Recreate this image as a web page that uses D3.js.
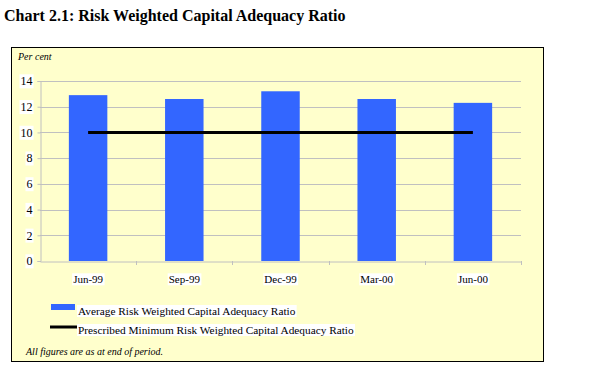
<!DOCTYPE html>
<html><head><meta charset="utf-8">
<script src="https://cdn.jsdelivr.net/npm/d3@7"></script>
<style>body{margin:0;background:#fff}svg{display:block}</style>
</head><body>
<svg id="c" width="602" height="384"></svg>
<script>
const categories = ["Jun-99","Sep-99","Dec-99","Mar-00","Jun-00"];
const averageCAR = [12.9, 12.6, 13.2, 12.6, 12.3];
const minimumCAR = [10, 10, 10, 10, 10];
const yTicks = [0,2,4,6,8,10,12,14];
const seriesNames = ["Average Risk Weighted Capital Adequacy Ratio","Prescribed Minimum Risk Weighted Capital Adequacy Ratio"];

const svg = d3.select("#c");
const font = "'Liberation Serif','Times New Roman',serif";
svg.append("text").attr("x",4).attr("y",21).attr("font-family",font).attr("font-weight","bold")
  .attr("font-size",16).text("Chart 2.1: Risk Weighted Capital Adequacy Ratio");

svg.append("rect").attr("x",11.5).attr("y",47.5).attr("width",532).attr("height",314)
  .attr("fill","#ffffcc").attr("stroke","#000").attr("stroke-width",1);

svg.append("text").attr("x",18).attr("y",60).attr("font-family",font).attr("font-style","italic")
  .attr("font-size",10).text("Per cent");

const x = d3.scaleBand().domain(categories).range([40,521]).paddingInner(0.6).paddingOuter(0.3);
const xb = d3.scaleBand().domain(categories).range([40,521]);
const y = d3.scaleLinear().domain([0,14]).range([261,81]);

function whiteBg(sel){
  sel.each(function(){
    const b = this.getBBox();
    d3.select(this.parentNode).insert("rect", () => this)
      .attr("x",b.x-1).attr("y",b.y).attr("width",b.width+2).attr("height",b.height).attr("fill","#fff");
  });
}

// gridlines
svg.append("g").selectAll("line").data(yTicks.filter(d=>d>0)).join("line")
  .attr("x1",40).attr("x2",521).attr("y1",d=>Math.round(y(d))+0.5).attr("y2",d=>Math.round(y(d))+0.5)
  .attr("stroke","#c0c0c0");

// y axis
const ya = svg.append("g").attr("transform","translate(40.5,0)")
  .call(d3.axisLeft(y).tickValues(yTicks).tickSize(3).tickPadding(5))
  .attr("font-family",font).attr("font-size",12);
ya.select(".domain").attr("stroke","#c0c0c0");
ya.selectAll(".tick line").attr("stroke","#c0c0c0");
ya.selectAll("text").attr("font-family",font).attr("font-size",12).attr("fill","#000");
whiteBg(ya.selectAll("text"));

// x axis
const xa = svg.append("g").attr("transform","translate(0,261.5)")
  .call(d3.axisBottom(xb).tickSize(0).tickPadding(14))
  .attr("font-family",font).attr("font-size",11);
xa.select(".domain").attr("stroke","#c0c0c0");
xa.selectAll("text").attr("font-family",font).attr("font-size",11).attr("fill","#000");
whiteBg(xa.selectAll("text"));
svg.append("g").selectAll("line").data(categories).join("line")
  .attr("x1",(d,i)=> Math.round(xb.range()[0] + xb.step()*(i+1))+0.5)
  .attr("x2",(d,i)=> Math.round(xb.range()[0] + xb.step()*(i+1))+0.5)
  .attr("y1",261).attr("y2",265).attr("stroke","#c0c0c0");

// bars
svg.append("g").selectAll("rect").data(averageCAR).join("rect")
  .attr("x",(d,i)=>x(categories[i])).attr("width",x.bandwidth())
  .attr("y",d=>y(d)).attr("height",d=>y(0)-y(d)).attr("fill","#3366ff");

// line
const line = d3.line().x((d,i)=>xb(categories[i])+xb.bandwidth()/2).y(d=>y(d));
svg.append("path").datum(minimumCAR).attr("d",line).attr("fill","none").attr("stroke","#000").attr("stroke-width",3);

// legend
const lg = svg.append("g");
lg.append("rect").attr("x",51).attr("y",304).attr("width",24).attr("height",6).attr("fill","#3366ff");
lg.append("line").attr("x1",50).attr("x2",78).attr("y1",327).attr("y2",327).attr("stroke","#000").attr("stroke-width",3);
const lt = lg.selectAll("text.lt").data(seriesNames).join("text").attr("class","lt")
  .attr("x",78).attr("y",(d,i)=>315+i*19).attr("font-family",font).attr("font-size",11.3).text(d=>d);
whiteBg(lt);

svg.append("text").attr("x",26).attr("y",355).attr("font-family",font).attr("font-style","italic")
  .attr("font-size",10).text("All figures are as at end of period.");
</script>
</body></html>
